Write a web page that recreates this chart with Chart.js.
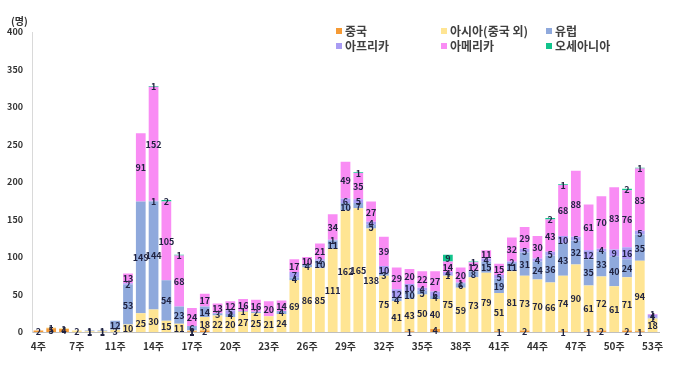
<!DOCTYPE html>
<html><head><meta charset="utf-8">
<script src="https://cdn.jsdelivr.net/npm/chart.js@4/dist/chart.umd.min.js"></script>
<style>
html,body{margin:0;padding:0;background:#fff;}
#wrap{position:relative;width:680px;height:366px;}
canvas{position:absolute;left:0;top:0;}
.unit{position:absolute;left:11px;top:13px;font:bold 10px 'Noto Sans CJK KR',sans-serif;color:#333;}
.lg{position:absolute;font:bold 12px 'Noto Sans CJK KR',sans-serif;color:#404040;line-height:14px;white-space:nowrap;}
.lg i{display:inline-block;width:6px;height:6px;margin-right:3px;vertical-align:2px;}
</style></head>
<body><div id="wrap"><canvas id="c" width="680" height="366"></canvas>
<div class="unit">(명)</div>
<div id="legend"></div>
</div>
<script>
const weeks = ['4주','5주','6주','7주','8주','9주','11주','12주','13주','14주','15주','16주','17주','18주','19주','20주','21주','22주','23주','24주','25주','26주','27주','28주','29주','30주','31주','32주','33주','34주','35주','36주','37주','38주','39주','40주','41주','42주','43주','44주','45주','46주','47주','48주','49주','50주','51주','52주','53주'];
const china    = [2,5,4,0,0,0,0,0,0,0,0,0,1,2,0,0,0,0,0,0,0,0,0,0,0,0,0,0,0,1,0,4,0,0,0,0,1,0,2,0,0,1,0,1,2,0,2,1,0];
const asia     = [0,1,1,2,1,1,3,10,25,30,15,11,1,18,22,20,27,25,21,24,69,86,85,111,162,165,138,75,41,43,50,40,75,59,73,79,51,81,73,70,66,74,90,61,72,61,71,94,18];
const europe   = [0,0,0,0,1,1,12,53,149,144,54,23,6,14,3,4,1,2,0,4,4,4,10,11,10,7,5,3,4,10,5,4,1,6,8,15,19,11,31,24,36,43,32,35,33,40,24,35,1];
const africa   = [0,0,0,0,0,0,0,2,0,1,0,0,0,0,0,5,0,0,0,0,7,0,2,1,6,5,4,10,12,10,4,6,4,1,0,4,5,2,5,4,5,10,5,12,4,9,16,5,4];
const americas = [0,0,0,0,0,0,0,13,91,152,105,68,24,17,13,12,16,16,20,14,17,10,21,34,49,35,27,39,29,20,22,27,14,20,12,11,15,32,29,30,43,68,88,61,70,83,76,83,1];
const oceania  = [0,0,0,0,0,0,0,0,0,1,2,1,0,0,0,0,0,0,0,0,0,0,0,0,0,1,0,0,0,0,0,0,9,0,1,0,0,0,0,0,2,1,0,0,0,0,2,1,0];
const seriesNames = ['중국','아시아(중국 외)','유럽','아프리카','아메리카','오세아니아'];
const yTicks = [0,50,100,150,200,250,300,350,400];

const colors = ['#F59A35','#FFE593','#8FA9DC','#A99CF3','#F98CF4','#12C48C'];
const data = [china, asia, europe, africa, americas, oceania];

// legend (HTML)
const lgPos = [[336,24],[441,24],[546,24],[336,39],[441,39],[546,39]];
const lgDiv = document.getElementById('legend');
seriesNames.forEach((n,k)=>{
  const d = document.createElement('div');
  d.className='lg';
  d.style.left = lgPos[k][0]+'px';
  d.style.top = lgPos[k][1]+'px';
  d.innerHTML = '<i style="background:'+colors[k]+'"></i>'+n;
  lgDiv.appendChild(d);
});

const labelPlugin = {
  id:'segLabels',
  afterDatasetsDraw(chart){
    const ctx = chart.ctx;
    ctx.save();
    ctx.font = 'bold 9px "Noto Sans CJK KR", sans-serif';
    ctx.fillStyle = '#1f2240';
    ctx.textAlign = 'center';
    ctx.textBaseline = 'middle';
    chart.data.datasets.forEach((ds,di)=>{
      const meta = chart.getDatasetMeta(di);
      meta.data.forEach((el,i)=>{
        const v = ds.data[i];
        if(!v) return;
        const p = el.getProps(['x','y','base'],true);
        ctx.fillText(String(v), p.x, (p.y+p.base)/2 + 0.5);
      });
    });
    ctx.restore();
  }
};

new Chart(document.getElementById('c'),{
  type:'bar',
  data:{
    labels: weeks,
    datasets: seriesNames.map((n,k)=>({label:n,data:data[k],backgroundColor:colors[k],borderWidth:0,barPercentage:0.76,categoryPercentage:1}))
  },
  options:{
    responsive:false,
    animation:false,
    devicePixelRatio:1,
    layout:{padding:{left:0,right:21,top:32,bottom:0}},
    plugins:{legend:{display:false},tooltip:{enabled:false}},
    scales:{
      x:{
        stacked:true,
        grid:{display:false,drawTicks:false},
        border:{display:true,color:'#bfbfbf'},
        ticks:{autoSkip:false,maxRotation:0,minRotation:0,padding:8,color:'#333',
          font:{family:'"Noto Sans CJK KR", sans-serif',size:10,weight:'bold'},
          callback:function(v,i){return i%3===0?weeks[i]:'';}},
        afterFit(s){s.height=34;}
      },
      y:{
        stacked:true,min:0,max:400,
        grid:{display:false,drawTicks:false},
        border:{display:true,color:'#d9d9d9'},
        afterBuildTicks(s){s.ticks = yTicks.map(v=>({value:v}));},
        ticks:{padding:9,color:'#333',font:{family:'"Noto Sans CJK KR", sans-serif',size:9,weight:'bold'}},
        afterFit(s){s.width=32;}
      }
    }
  },
  plugins:[labelPlugin]
});
</script>
</body></html>
